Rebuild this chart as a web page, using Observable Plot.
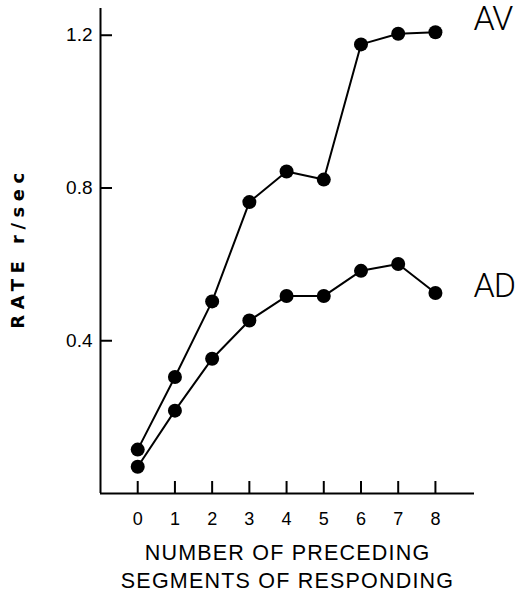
<!DOCTYPE html>
<html>
<head>
<meta charset="utf-8">
<script src="https://cdn.jsdelivr.net/npm/d3@7"></script>
<script src="https://cdn.jsdelivr.net/npm/@observablehq/plot@0.6"></script>
<style>
  html, body { margin: 0; padding: 0; background: #fff; }
  #chart svg { display: block; }
</style>
</head>
<body>
<div id="chart"></div>
<script>
// Data
const segments = [0, 1, 2, 3, 4, 5, 6, 7, 8];
const rateAV = [0.115, 0.305, 0.503, 0.763, 0.843, 0.822, 1.176, 1.204, 1.208];
const rateAD = [0.070, 0.217, 0.353, 0.453, 0.517, 0.517, 0.583, 0.601, 0.525];
const seriesNames = ["AV", "AD"];
const xTicks = [0, 1, 2, 3, 4, 5, 6, 7, 8];
const yTicks = [0.4, 0.8, 1.2];
const yTickLabels = ["0.4", "0.8", "1.2"];
const yTitle = "RATE r/sec";
const xTitle = "NUMBER OF PRECEDING\nSEGMENTS OF RESPONDING";
const xDomain = [-1, 9.05];
const yDomain = [0, 1.27];

const rows = [];
segments.forEach((s, i) => {
  rows.push({series: "AV", x: s, y: rateAV[i]});
  rows.push({series: "AD", x: s, y: rateAD[i]});
});
const last = segments.length - 1;
const endAV = [{series: seriesNames[0], x: segments[last], y: rateAV[last]}];
const endAD = [{series: seriesNames[1], x: segments[last], y: rateAD[last]}];

const W = 520, H = 595;
const mL = 100, mR = 46, mT = 8, mB = 102;
const frameW = W - mL - mR, frameH = H - mT - mB;
const tickLen = 12;
// tick lengths expressed in scale units so the ticks stay a fixed pixel length
const xTickSpan = yDomain[0] + tickLen / frameH * (yDomain[1] - yDomain[0]);
const yTickSpan = xDomain[0] + tickLen / frameW * (xDomain[1] - xDomain[0]);
const labelFont = "Roboto, 'Liberation Sans', sans-serif";

const chart = Plot.plot({
  width: W,
  height: H,
  marginLeft: mL,
  marginRight: mR,
  marginTop: mT,
  marginBottom: mB,
  style: {background: "white", color: "black", overflow: "visible"},
  x: {domain: xDomain, axis: null},
  y: {domain: yDomain, axis: null},
  marks: [
    // axis lines
    Plot.ruleX([xDomain[0]], {y1: yDomain[0], y2: yDomain[1], stroke: "black", strokeWidth: 2}),
    Plot.ruleY([yDomain[0]], {x1: xDomain[0], x2: xDomain[1], stroke: "black", strokeWidth: 2}),
    // inward ticks
    Plot.ruleX(xTicks, {x: d => d, y1: yDomain[0], y2: xTickSpan, stroke: "black", strokeWidth: 2}),
    Plot.ruleY(yTicks, {y: d => d, x1: xDomain[0], x2: yTickSpan, stroke: "black", strokeWidth: 2}),
    // tick labels
    Plot.text(xTicks, {x: d => d, frameAnchor: "bottom", dy: 26, text: d => String(d),
      fontSize: 18, fontFamily: "Liberation Sans, Arial, sans-serif", lineAnchor: "middle", fill: "black"}),
    Plot.text(yTicks, {y: d => d, frameAnchor: "left", dx: -8, text: (d, i) => yTickLabels[i],
      textAnchor: "end", fontSize: 19, fontFamily: "Liberation Sans, Arial, sans-serif", fill: "black"}),
    // axis titles
    Plot.text([yTitle], {frameAnchor: "left", dx: -82, dy: -3, rotate: -90, text: d => d,
      fontSize: 18, fontWeight: "bold", fontFamily: "DejaVu Sans",
      fill: "black", textAnchor: "middle", lineAnchor: "middle"}),
    Plot.text([xTitle], {frameAnchor: "bottom", dy: 72, text: d => d,
      fontSize: 21.5, fontFamily: "Liberation Sans, Arial, sans-serif", lineHeight: 1.3,
      fill: "black", textAnchor: "middle", lineAnchor: "middle"}),
    // series
    Plot.line(rows, {x: "x", y: "y", z: "series", stroke: "black", strokeWidth: 2}),
    Plot.dot(rows, {x: "x", y: "y", r: 7, fill: "black", stroke: "none"}),
    // series labels
    Plot.text(endAV, {x: "x", y: "y", dy: -13, dx: 38, text: "series", textAnchor: "start",
      fontSize: 34, fontWeight: 300, fontFamily: labelFont, fill: "black", lineAnchor: "middle"}),
    Plot.text(endAD, {x: "x", y: "y", dy: -7, dx: 38, text: "series", textAnchor: "start",
      fontSize: 34, fontWeight: 300, fontFamily: labelFont, fill: "black", lineAnchor: "middle"})
  ]
});
// letter spacing for the lettered axis titles
chart.querySelectorAll("text").forEach(t => {
  if (t.textContent === yTitle) t.style.letterSpacing = "5.5px";
  if (t.textContent === seriesNames[0] || t.textContent === seriesNames[1]) t.style.letterSpacing = "-1px";
});
chart.querySelectorAll("tspan").forEach(t => {
  t.parentNode.style.letterSpacing = "1.2px";
});
document.getElementById("chart").appendChild(chart);
</script>
</body>
</html>
